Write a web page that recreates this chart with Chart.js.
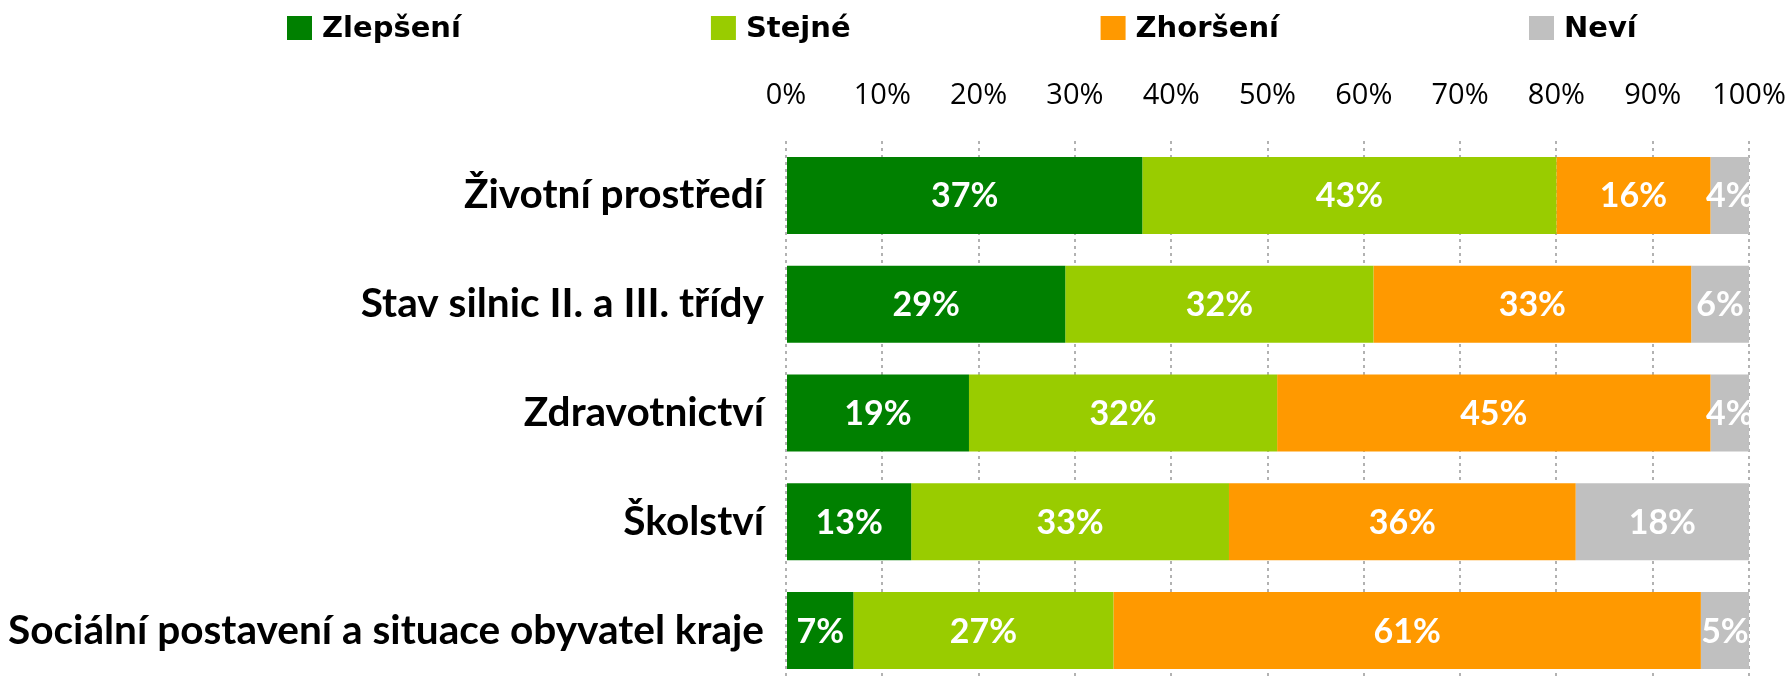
<!DOCTYPE html>
<html>
<head>
<meta charset="utf-8">
<script src="https://cdn.jsdelivr.net/npm/chart.js@4.4.1/dist/chart.umd.min.js"></script>
<style>
  html, body { margin: 0; padding: 0; background: #ffffff; overflow: hidden; }
  #wrap { width: 1791px; height: 686px; }
</style>
</head>
<body>
<div id="wrap"><canvas id="c" width="1791" height="686"></canvas></div>
<script>
// ---- data ----
const categories = [
  "Životní prostředí",
  "Stav silnic II. a III. třídy",
  "Zdravotnictví",
  "Školství",
  "Sociální postavení a situace obyvatel kraje"
];
const seriesNames = ["Zlepšení", "Stejné", "Zhoršení", "Neví"];
const zlepseni = [37, 29, 19, 13, 7];
const stejne   = [43, 32, 32, 33, 27];
const zhorseni = [16, 33, 45, 36, 61];
const nevi     = [4, 6, 4, 18, 5];
const tickLabels = ["0%", "10%", "20%", "30%", "40%", "50%", "60%", "70%", "80%", "90%", "100%"];

// ---- styles ----
const colors = ["#008000", "#99CC00", "#FF9900", "#C0C0C0"];

const legendPlugin = {
  id: 'topLegend',
  afterDraw(chart) {
    const ctx = chart.ctx;
    const startX = 287, cy = 28, box = 25, boxH = 24, gapBoxText = 10, gapItems = 250;
    ctx.save();
    ctx.font = 'bold 29px "DejaVu Sans"';
    ctx.textBaseline = 'middle';
    ctx.textAlign = 'left';
    let x = startX;
    chart.data.datasets.forEach(ds => {
      ctx.fillStyle = ds.backgroundColor;
      ctx.fillRect(x, cy - boxH / 2, box, boxH);
      x += box + gapBoxText;
      ctx.fillStyle = '#000000';
      ctx.fillText(ds.label, x, cy + 1);
      x += ctx.measureText(ds.label).width + gapItems;
    });
    ctx.restore();
  }
};

const valueLabels = {
  id: 'valueLabels',
  afterDatasetsDraw(chart) {
    const ctx = chart.ctx;
    ctx.save();
    ctx.font = 'bold 34px Lato';
    ctx.fillStyle = '#ffffff';
    ctx.textAlign = 'center';
    ctx.textBaseline = 'middle';
    chart.data.datasets.forEach((ds, di) => {
      const meta = chart.getDatasetMeta(di);
      meta.data.forEach((el, i) => {
        const v = ds.data[i];
        const cx = (el.x + el.base) / 2;
        ctx.fillText(Math.round(v) + '%', cx, el.y + 1);
      });
    });
    ctx.restore();
  }
};

const series = [zlepseni, stejne, zhorseni, nevi];

new Chart(document.getElementById('c'), {
  type: 'bar',
  data: {
    labels: categories,
    datasets: seriesNames.map((name, i) => ({
      label: name,
      data: series[i],
      backgroundColor: colors[i],
      borderWidth: 0,
      barPercentage: 0.708,
      categoryPercentage: 1.0
    }))
  },
  options: {
    indexAxis: 'y',
    responsive: false,
    devicePixelRatio: 1,
    animation: false,
    layout: { padding: { top: 78, left: 0, right: 42, bottom: 1 } },
    plugins: {
      legend: { display: false },
      tooltip: { enabled: false }
    },
    scales: {
      x: {
        position: 'top',
        stacked: true,
        min: 0,
        max: 100,
        afterFit: (s) => { s.height = 63; s.paddingLeft = 0; s.paddingRight = 0; },
        afterBuildTicks: (s) => {
          s.ticks = tickLabels.map((t, i) => ({ value: i * 10 }));
        },
        ticks: {
          stepSize: 10,
          padding: 28,
          color: '#000000',
          font: { family: '"Open Sans"', size: 29 },
          callback: (v, i) => tickLabels[i]
        },
        grid: {
          drawTicks: false,
          color: '#b2b2b2',
          lineWidth: 2
        },
        border: { display: false, dash: [3, 4] }
      },
      y: {
        stacked: true,
        afterFit: (s) => { s.width = 786; s.paddingTop = 0; s.paddingBottom = 0; },
        ticks: {
          padding: 22,
          color: '#000000',
          font: { family: 'Lato', size: 40.6, weight: 'bold' }
        },
        grid: { display: false, drawTicks: false },
        border: { display: false }
      }
    }
  },
  plugins: [legendPlugin, valueLabels]
});
</script>
</body>
</html>
